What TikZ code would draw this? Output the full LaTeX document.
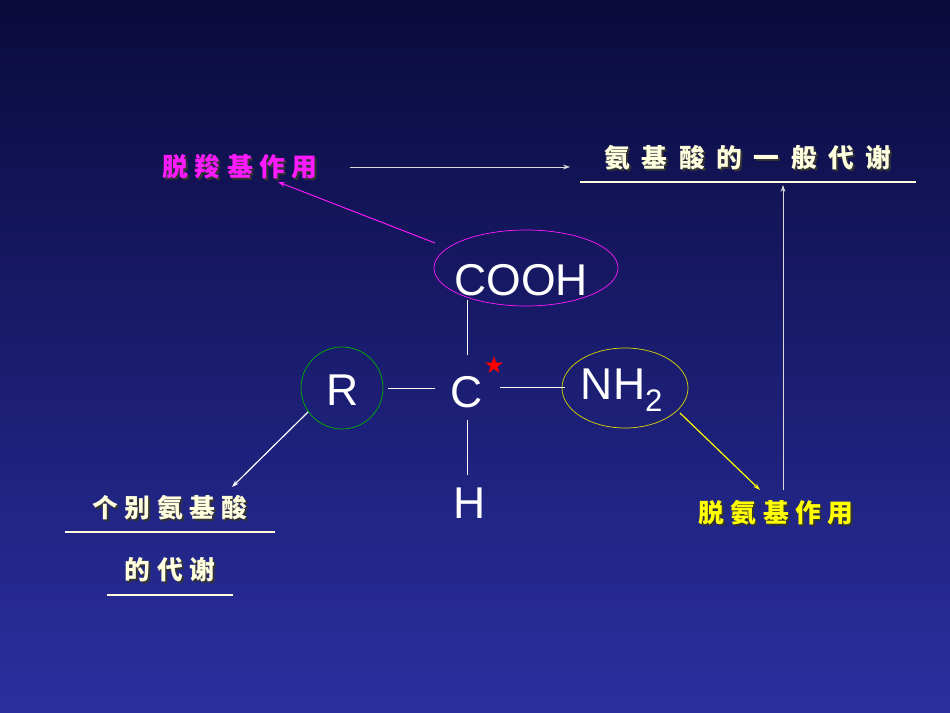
\documentclass[tikz,border=0pt]{standalone}
\usepackage{fontspec}
\setmainfont{Liberation Sans}
\newfontfamily\cjk{Noto Sans CJK SC}
\newfontfamily\dejavu{DejaVu Sans}
\usetikzlibrary{shapes.geometric,arrows.meta}
\definecolor{bgtop}{HTML}{0A0A3C}
\definecolor{bgbot}{HTML}{2A2FA0}
\definecolor{cream}{HTML}{FFFFE0}
\definecolor{mag}{HTML}{FF1AFF}
\definecolor{yel}{HTML}{FFFF00}
\tikzset{
 cn/.style={font=\cjk\bfseries\fontsize{22}{26}\selectfont\addfontfeature{LetterSpace=25}, inner sep=0pt},
 cnw/.style={font=\cjk\bfseries\fontsize{22}{26}\selectfont\addfontfeature{LetterSpace=45}, inner sep=0pt},
 chem/.style={font=\fontsize{38}{42}\selectfont, text=white, inner sep=0pt},
 bond/.style={white, line width=0.8pt},
 thin/.style={-{Stealth[length=6pt,width=4pt]}, line width=0.5pt},
}
\begin{document}
\begin{tikzpicture}[x=0.03cm,y=-0.03cm]
\shade[top color=bgtop,bottom color=bgbot] (0,0) rectangle (950,713);
\useasboundingbox (0,0) rectangle (950,713);
\node[cn,text=black!80] at (242,169) {脱羧基作用};
\node[cn,text=mag] (decarb) at (240,167) {脱羧基作用};
\node[cnw,text=black!80] at (750,160) {氨基酸的一般代谢};
\node[cnw,text=cream] (general) at (748,158) {氨基酸的一般代谢};
\node[cn,text=black!80] at (172,510) {个别氨基酸};
\node[cn,text=cream] (indiv) at (170,508) {个别氨基酸};
\node[cn,text=black!80] at (172,572) {的代谢};
\node[cn,text=cream] (indiv2) at (170,570) {的代谢};
\node[cn,text=black!80] at (778,515) {脱氨基作用};
\node[cn,text=yel] (deamin) at (776,513) {脱氨基作用};
\draw[cream,line width=1.2pt] (580,182) -- (916,182);
\draw[cream,line width=1.2pt] (65,532) -- (275,532);
\draw[cream,line width=1.2pt] (107,595) -- (233,595);
\node[chem] (cooh) at (521,280) {COOH};
\node[draw=mag,ellipse,minimum width=184*0.03cm,minimum height=76*0.03cm,line width=0.6pt] (ecooh) at (526,268) {};
\node[chem] (r) at (343,390) {R};
\node[draw=green!70!black,circle,minimum size=82*0.03cm,line width=0.6pt] (er) at (342,388) {};
\node[chem] (c) at (467,392) {C};
\node[red,font=\dejavu\fontsize{20}{20}\selectfont,inner sep=0pt] (star) at (494,365) {★};
\node[chem] (nh2) at (622,390) {NH\textsubscript{2}};
\node[draw=yel!85!black,ellipse,minimum width=126*0.03cm,minimum height=80*0.03cm,line width=0.6pt] (enh) at (625,388) {};
\node[chem] (h) at (470,503) {H};
\coordinate (t1) at (467,300); \coordinate (t2) at (467,355);
\coordinate (b1) at (467,420); \coordinate (b2) at (467,475);
\coordinate (l1) at (388,388); \coordinate (l2) at (435,388);
\coordinate (r1) at (500,387); \coordinate (r2) at (565,387);
\draw[bond] (t1) -- (t2); \draw[bond] (b1) -- (b2);
\draw[bond] (l1) -- (l2); \draw[bond] (r1) -- (r2);
\coordinate (a1) at (350,167); \coordinate (a2) at (570,167);
\draw[thin,white!85!black] (a1) -- (a2);
\coordinate (m1) at (435,243); \coordinate (m2) at (278,182);
\draw[thin,mag,line width=0.8pt] (m1) -- (m2);
\coordinate (w1) at (308,412); \coordinate (w2) at (232,487);
\draw[thin,white,line width=1pt] (w1) -- (w2);
\coordinate (y1) at (680,413); \coordinate (y2) at (760,490);
\draw[thin,yel,line width=1pt] (y1) -- (y2);
\coordinate (u1) at (783,490); \coordinate (u2) at (783,185);
\draw[thin,white!85!black] (u1) -- (u2);
\end{tikzpicture}
\end{document}
